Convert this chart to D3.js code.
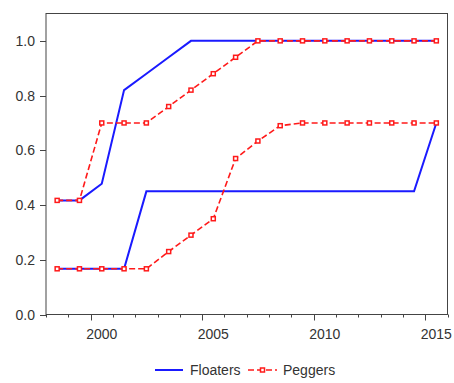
<!DOCTYPE html>
<html><head><meta charset="utf-8">
<script src="https://cdn.jsdelivr.net/npm/d3@7"></script>
<style>body{margin:0;background:#fff}svg{display:block;font-family:"Liberation Sans",Arial,sans-serif}</style>
</head><body><svg id="c" width="454" height="383"></svg>
<script>
const years = [1998,1999,2000,2001,2002,2003,2004,2005,2006,2007,2008,2009,2010,2011,2012,2013,2014,2015];
const floatersUpper = [0.417,0.417,0.478,0.82,0.88,0.94,1,1,1,1,1,1,1,1,1,1,1,1];
const floatersLower = [0.167,0.167,0.167,0.167,0.45,0.45,0.45,0.45,0.45,0.45,0.45,0.45,0.45,0.45,0.45,0.45,0.45,0.70];
const peggersUpper = [0.417,0.417,0.70,0.70,0.70,0.76,0.82,0.88,0.94,1,1,1,1,1,1,1,1,1];
const peggersLower = [0.167,0.167,0.167,0.167,0.167,0.23,0.29,0.35,0.57,0.634,0.69,0.70,0.70,0.70,0.70,0.70,0.70,0.70];
const yTicks = [0,0.2,0.4,0.6,0.8,1.0];
const xLabels = [2000,2005,2010,2015];
const seriesNames = ["Floaters","Peggers"];

const svg = d3.select("#c");
const L=46, R=447.5, T=13.5, B=314.5;
const x = d3.scaleLinear().domain([1997.5,2015.5]).range([L,R]);
const y = d3.scaleLinear().domain([0,1.1]).range([B,T]);
const txt = "#333";
const fs = 14;

// frame
svg.append("rect").attr("x",L).attr("y",T).attr("width",R-L).attr("height",B-T)
  .attr("fill","none").attr("stroke","#444").attr("stroke-width",1);

// y axis
const ya = svg.append("g");
yTicks.forEach(v=>{
  ya.append("line").attr("x1",L-6).attr("x2",L).attr("y1",Math.round(y(v))+0.5).attr("y2",Math.round(y(v))+0.5).attr("stroke","#444");
  ya.append("text").attr("x",L-11).attr("y",y(v)).attr("dy","0.36em").attr("text-anchor","end")
    .attr("font-size",fs).attr("fill",txt).text(d3.format(".1f")(v));
});
// x axis ticks at year boundaries
const xa = svg.append("g");
for(let yr=1998; yr<=2016; yr++){
  const major = xLabels.includes(yr);
  const px = Math.round(x(yr-0.5))+0.5;
  xa.append("line").attr("x1",px).attr("x2",px).attr("y1",B).attr("y2",B+(major?6:3)).attr("stroke","#444");
}
xLabels.forEach(v=>{
  xa.append("text").attr("x",x(v)).attr("y",B+24.5).attr("text-anchor","middle")
    .attr("font-size",fs).attr("fill",txt).text(v);
});

const line = d3.line().x((d,i)=>x(years[i])).y(d=>y(d));
const blue="#1a1aff", red="#ff1a1a";
[floatersUpper,floatersLower].forEach(s=>{
  svg.append("path").attr("d",line(s)).attr("fill","none").attr("stroke",blue).attr("stroke-width",2);
});
[peggersUpper,peggersLower].forEach(s=>{
  svg.append("path").attr("d",line(s)).attr("fill","none").attr("stroke",red).attr("stroke-width",1.6).attr("stroke-dasharray","6,3");
  svg.append("g").selectAll("rect").data(s).join("rect")
    .attr("x",(d,i)=>x(years[i])-2).attr("y",d=>y(d)-2).attr("width",4).attr("height",4)
    .attr("fill","#fff").attr("stroke",red).attr("stroke-width",1.5);
});

// legend
const ly=370;
svg.append("line").attr("x1",155).attr("x2",183).attr("y1",ly).attr("y2",ly).attr("stroke",blue).attr("stroke-width",2);
svg.append("text").attr("x",190).attr("y",ly).attr("dy","0.36em").attr("font-size",fs).attr("fill",txt).text(seriesNames[0]);
svg.append("line").attr("x1",248).attr("x2",277).attr("y1",ly).attr("y2",ly).attr("stroke",red).attr("stroke-width",1.6).attr("stroke-dasharray","6,3");
svg.append("rect").attr("x",262.5-2).attr("y",ly-2).attr("width",4).attr("height",4).attr("fill","#fff").attr("stroke",red).attr("stroke-width",1.5);
svg.append("text").attr("x",283).attr("y",ly).attr("dy","0.36em").attr("font-size",fs).attr("fill",txt).text(seriesNames[1]);
</script></body></html>
